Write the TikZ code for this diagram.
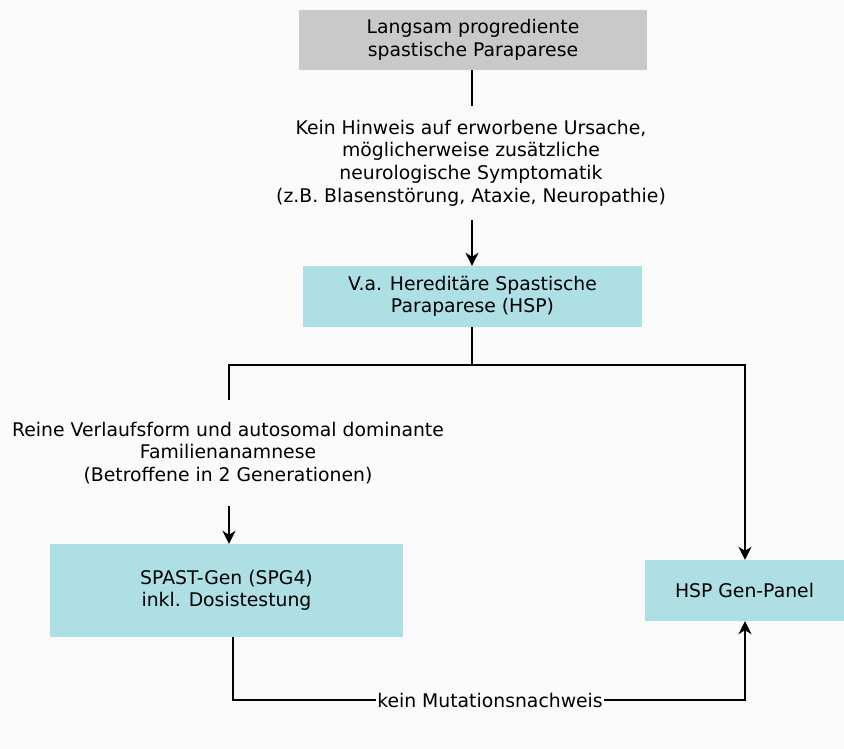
\documentclass[tikz,border=0pt]{standalone}
\usepackage{fontspec}
\setmainfont{DejaVu Sans}
\usetikzlibrary{arrows.meta,positioning}
\definecolor{boxgray}{HTML}{C9C9C9}
\definecolor{boxblue}{HTML}{AEDFE5}
\definecolor{bgcol}{HTML}{FAFAFA}
\begin{document}
\begin{tikzpicture}[x=1pt,y=-1pt,
  every node/.style={font=\fontsize{18.8}{22.6}\selectfont, align=center},
  bluebox/.style={fill=boxblue, inner sep=0pt},
  lab/.style={inner xsep=4pt},
  conn/.style={line width=1.8pt},
  arr/.style={line width=1.8pt, -{Stealth[length=13pt,width=13pt,inset=4pt]}}
]
\fill[bgcol] (0,0) rectangle (844,749);
\useasboundingbox (0,0) rectangle (844,749);

\node[fill=boxgray, minimum width=348pt, minimum height=60pt, inner sep=0pt] (top) at (473,40) {Langsam progrediente\\spastische Paraparese};
\node[lab, inner ysep=14pt] (lab1) at (471,163) {Kein Hinweis auf erworbene Ursache,\\möglicherweise zusätzliche\\neurologische Symptomatik\\(z.B. Blasenstörung, Ataxie, Neuropathie)};
\node[bluebox, minimum width=339pt, minimum height=61pt] (hsp) at (472.5,296.5) {V.a. Hereditäre Spastische\\Paraparese (HSP)};
\node[lab, inner ysep=22pt] (lab2) at (228,453) {Reine Verlaufsform und autosomal dominante\\Familienanamnese\\(Betroffene in 2 Generationen)};
\node[bluebox, minimum width=353pt, minimum height=93pt] (spast) at (226.5,590.5) {SPAST-Gen (SPG4)\\inkl. Dosistestung};
\node[bluebox, minimum width=199pt, minimum height=61pt] (panel) at (744.5,590.5) {HSP Gen-Panel};
\node[inner xsep=1pt, inner ysep=2pt] (lab3) at (490,700) {kein Mutationsnachweis};

\coordinate (split) at (472,365);
\coordinate (lefttop) at (229,365);
\coordinate (righttop) at (745,365);
\coordinate (spastout) at (233,637);
\coordinate (botleft) at (233,700);
\coordinate (botright) at (745,700);

\draw[conn] (top.south -| split) -- (lab1.north -| split);
\draw[arr] (lab1.south -| split) -- (hsp.north -| split);
\draw[conn] (hsp.south -| split) -- (split) -- (lefttop) -- (lab2.north -| lefttop);
\draw[arr] (split) -- (righttop) -- (panel.north -| righttop);
\draw[arr] (lab2.south -| lefttop) -- (spast.north -| lefttop);
\draw[conn] (spastout) -- (botleft) -- (lab3.west);
\draw[arr] (lab3.east) -- (botright) -- (panel.south -| botright);
\end{tikzpicture}
\end{document}
